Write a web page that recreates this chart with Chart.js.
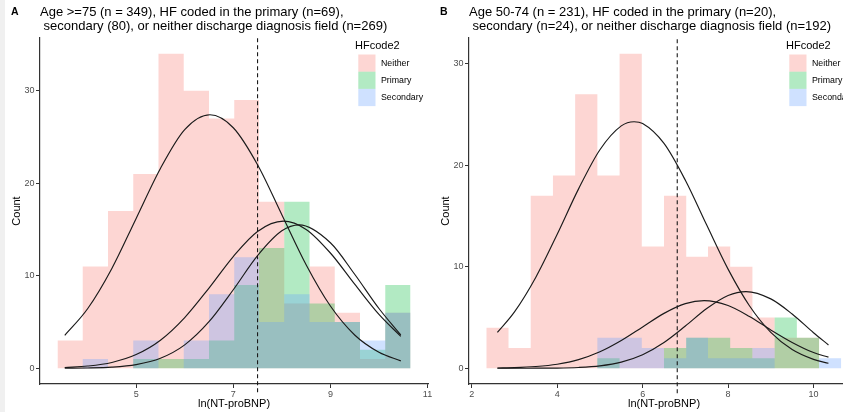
<!DOCTYPE html>
<html>
<head>
<meta charset="utf-8">
<script src="https://cdn.jsdelivr.net/npm/chart.js@4"></script>
<style>
  html, body { margin: 0; padding: 0; background: #fff; width: 843px; height: 412px; overflow: hidden; }
  #wrapA { position: absolute; left: 0; top: 0; }
  #wrapB { position: absolute; left: 429px; top: 0; }
  #edge { position: absolute; left: 0; top: 0; width: 5px; height: 412px; background: #f0f0f0; }
</style>
</head>
<body>
<div id="wrapA"><canvas id="chartA" width="436" height="412"></canvas></div>
<div id="wrapB"><canvas id="chartB" width="438" height="412"></canvas></div>
<div id="edge"></div>
<script>
const groups = ['Neither', 'Primary', 'Secondary'];
const fills = ['rgba(248,118,109,0.3)', 'rgba(0,186,56,0.3)', 'rgba(97,156,255,0.3)'];

// panel A: age >= 75
const edgesA = [3.38, 3.90, 4.42, 4.94, 5.46, 5.98, 6.50, 7.02, 7.53, 8.05, 8.57, 9.09, 9.61, 10.13, 10.65];
const neitherA = [3, 11, 17, 21, 34, 30, 27, 29, 18, 7, 11, 6, 1, 6];
const primaryA = [0, 0, 0, 1, 1, 1, 3, 9, 13, 18, 7, 5, 2, 9];
const secondaryA = [0, 1, 0, 3, 0, 3, 8, 12, 5, 8, 5, 5, 3, 6];
const cutoffA = 7.5;
const xTicksA = [5, 7, 9, 11];

const neitherCurveAX = [3.53, 4, 4.5, 5, 5.5, 6, 6.52, 7, 7.5, 8, 8.5, 9, 9.5, 10, 10.45];
const neitherCurveAY = [3.56, 6.43, 10.79, 16.2, 21.6, 25.8, 27.4, 26.0, 22.0, 16.6, 11.2, 6.73, 3.6, 1.73, 0.8];
const primaryCurveAX = [3.53, 4, 4.5, 5, 5.5, 6, 6.5, 7, 7.5, 8, 8.36, 9, 9.5, 10, 10.45];
const primaryCurveAY = [0.01, 0.03, 0.12, 0.4, 1.08, 2.53, 5.03, 8.49, 12.18, 14.86, 15.5, 13.57, 10.16, 6.46, 3.6];
const secondaryCurveAX = [3.53, 4, 4.5, 5, 5.5, 6, 6.5, 7, 7.5, 8.03, 8.5, 9, 9.5, 10, 10.45];
const secondaryCurveAY = [0.08, 0.24, 0.63, 1.48, 3.03, 5.48, 8.67, 12.08, 14.79, 15.9, 15.01, 12.46, 9.09, 5.82, 3.45];

// panel B: age 50-74
const edgesB = [2.34, 2.86, 3.38, 3.90, 4.42, 4.94, 5.46, 5.98, 6.50, 7.02, 7.53, 8.05, 8.57, 9.09, 9.61, 10.13, 10.65];
const neitherB = [4, 2, 17, 19, 27, 19, 31, 12, 17, 11, 12, 10, 5, 3, 3, 0];
const primaryB = [0, 0, 0, 0, 0, 1, 0, 0, 2, 3, 3, 2, 1, 5, 3, 0];
const secondaryB = [0, 0, 0, 0, 0, 3, 3, 2, 1, 3, 1, 1, 2, 0, 0, 1];
const cutoffB = 6.81;
const xTicksB = [2, 4, 6, 8, 10];

const neitherCurveBX = [2.6, 3, 3.5, 4, 4.5, 5, 5.5, 5.8, 6, 6.5, 7, 7.5, 8, 8.5, 9, 9.5, 10, 10.35];
const neitherCurveBY = [3.54, 5.56, 8.98, 13.21, 17.68, 21.54, 23.89, 24.3, 24.12, 22.16, 18.53, 14.11, 9.77, 6.16, 3.54, 1.85, 0.88, 0.49];
const primaryCurveBX = [2.6, 3, 3.5, 4, 4.5, 5, 5.5, 6, 6.5, 7, 7.5, 8, 8.42, 9, 9.5, 10, 10.35];
const primaryCurveBY = [0, 0, 0.01, 0.02, 0.08, 0.24, 0.61, 1.34, 2.54, 4.16, 5.89, 7.18, 7.56, 6.84, 5.35, 3.5, 2.3];
const secondaryCurveBX = [2.6, 3, 3.5, 4, 4.5, 5, 5.5, 6, 6.5, 7, 7.44, 8, 8.5, 9, 9.5, 10, 10.35];
const secondaryCurveBY = [0.03, 0.06, 0.17, 0.4, 0.85, 1.62, 2.73, 4.07, 5.41, 6.37, 6.67, 6.19, 5.11, 3.78, 2.55, 1.55, 1.1];

const yTicks = [0, 10, 20, 30];
const fam = "'Liberation Sans', Arial, Helvetica, sans-serif";

// titles, panel tag and the legend inside the panel
const panelText = {
  id: 'panelText',
  afterDraw(chart, args, opts) {
    const ctx = chart.ctx, area = chart.chartArea;
    ctx.save();
    ctx.textBaseline = 'middle';
    ctx.textAlign = 'left';
    ctx.fillStyle = '#000';
    ctx.font = 'bold 10.5px ' + fam;
    ctx.fillText(opts.tag, area.left - 29, 12.5);
    ctx.font = '13px ' + fam;
    ctx.fillText(opts.lines[0], area.left, 12.7);
    ctx.fillText(opts.lines[1], area.left, 26.2);

    const lx = area.right - 73;
    ctx.font = '11px ' + fam;
    ctx.fillText('HFcode2', lx, 46);
    groups.forEach((g, i) => {
      ctx.fillStyle = fills[i];
      ctx.fillRect(lx + 3.3, 54.5 + i * 17.2, 17.2, 17.2);
      ctx.fillStyle = '#000';
      ctx.font = '8.8px ' + fam;
      ctx.fillText(g, lx + 26, 63.2 + i * 17.2);
    });
    ctx.restore();
  }
};

function steps(edges, counts) {
  return edges.map((e, i) => ({ x: e, y: counts[Math.min(i, counts.length - 1)] }));
}

function points(xs, ys) {
  return xs.map((x, i) => ({ x: x, y: ys[i] }));
}

function buildPanel(id, p) {
  const hist = [p.neither, p.primary, p.secondary].map((c, i) => ({
    label: groups[i],
    data: steps(p.edges, c),
    stepped: 'before',
    fill: 'origin',
    backgroundColor: fills[i],
    borderColor: 'transparent',
    borderWidth: 0,
    pointRadius: 0,
    order: 10 - i
  }));
  const curves = p.curves.map(c => ({
    data: points(c[0], c[1]),
    borderColor: '#1a1a1a',
    borderWidth: 1.15,
    pointRadius: 0,
    fill: false,
    cubicInterpolationMode: 'monotone',
    order: 2
  }));
  const cut = {
    data: [{ x: p.cutoff, y: p.yMin - 0.9 }, { x: p.cutoff, y: p.yMax }],
    borderColor: '#1a1a1a',
    borderWidth: 1.1,
    borderDash: [4, 3],
    pointRadius: 0,
    fill: false,
    clip: false,
    order: 1
  };

  new Chart(document.getElementById(id), {
    type: 'line',
    data: { datasets: hist.concat(curves, [cut]) },
    options: {
      responsive: false,
      animation: false,
      events: [],
      layout: { padding: { top: 38, right: 8, bottom: 0, left: 0 } },
      plugins: {
        legend: { display: false },
        tooltip: { enabled: false },
        panelText: { tag: p.tag, lines: p.lines }
      },
      scales: {
        x: {
          type: 'linear',
          min: p.xMin,
          max: p.xMax,
          afterBuildTicks: s => { s.ticks = p.xTicks.map(v => ({ value: v })); },
          afterFit: s => { s.height = 28; },
          grid: { display: true, drawOnChartArea: false, drawTicks: true, tickLength: 4, tickWidth: 1, tickColor: '#333' },
          border: { display: true, color: '#333', width: 1.2 },
          ticks: { color: '#4d4d4d', font: { size: 9, family: fam }, padding: 1, maxRotation: 0, autoSkip: false },
          title: { display: true, text: 'ln(NT-proBNP)', color: '#000', font: { size: 11, family: fam }, padding: { top: 0, bottom: 1.4 } }
        },
        y: {
          type: 'linear',
          min: p.yMin,
          max: p.yMax,
          afterBuildTicks: s => { s.ticks = yTicks.map(v => ({ value: v })); },
          afterFit: s => { s.width = 40; },
          grid: { display: true, drawOnChartArea: false, drawTicks: true, tickLength: 4, tickWidth: 1, tickColor: '#333' },
          border: { display: true, color: '#333', width: 1.2 },
          ticks: { color: '#4d4d4d', font: { size: 9, family: fam }, padding: 1.5 },
          title: { display: true, text: 'Count', color: '#000', font: { size: 11, family: fam }, padding: { top: 10, bottom: 0 } }
        }
      }
    },
    plugins: [panelText]
  });
}

buildPanel('chartA', {
  tag: 'A',
  lines: ['Age >=75 (n = 349), HF coded in the primary (n=69),', ' secondary (80), or neither discharge diagnosis field (n=269)'],
  edges: edgesA, neither: neitherA, primary: primaryA, secondary: secondaryA,
  curves: [[neitherCurveAX, neitherCurveAY], [primaryCurveAX, primaryCurveAY], [secondaryCurveAX, secondaryCurveAY]],
  cutoff: cutoffA, xTicks: xTicksA,
  xMin: 3.02, xMax: 11.01, yMin: -1.7, yMax: 35.7
});

buildPanel('chartB', {
  tag: 'B',
  lines: ['Age 50-74 (n = 231), HF coded in the primary (n=20),', ' secondary (n=24), or neither discharge diagnosis field (n=192)'],
  edges: edgesB, neither: neitherB, primary: primaryB, secondary: secondaryB,
  curves: [[neitherCurveBX, neitherCurveBY], [primaryCurveBX, primaryCurveBY], [secondaryCurveBX, secondaryCurveBY]],
  cutoff: cutoffB, xTicks: xTicksB,
  xMin: 1.935, xMax: 11.065, yMin: -1.55, yMax: 32.55
});
</script>
</body>
</html>
